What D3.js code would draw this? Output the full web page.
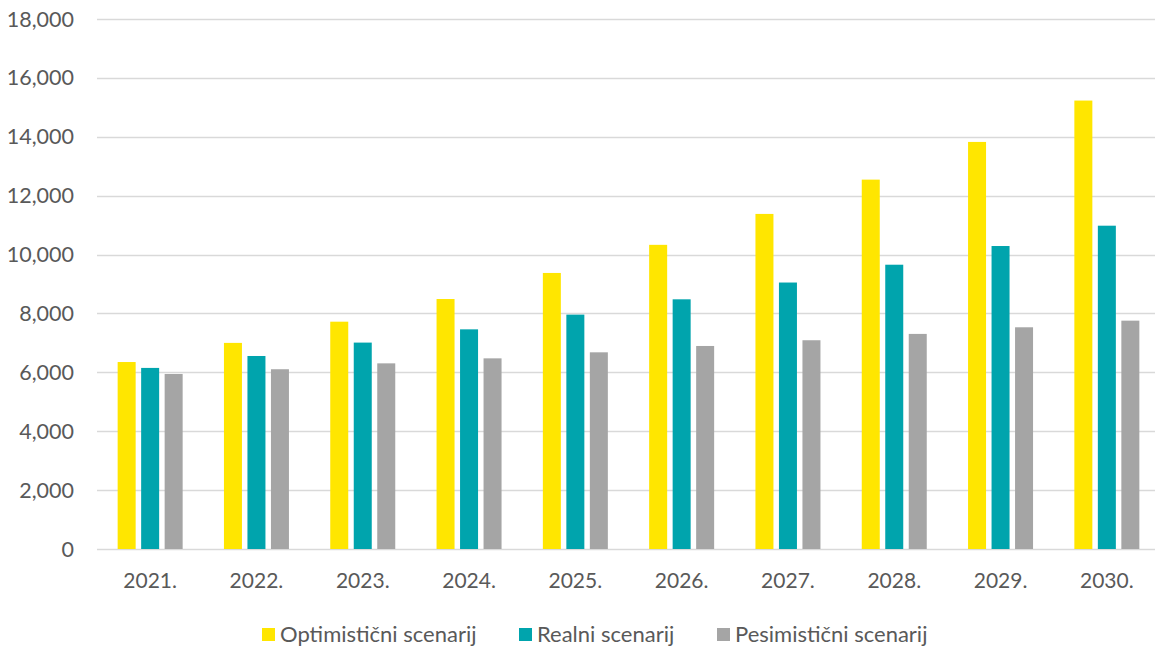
<!DOCTYPE html>
<html>
<head>
<meta charset="utf-8">
<script src="https://cdn.jsdelivr.net/npm/d3@7"></script>
<style>
  html, body { margin: 0; padding: 0; background: #fff; }
  svg { display: block; }
  text { font-family: Lato, "Open Sans", "Liberation Sans", sans-serif; fill: #595959; }
</style>
</head>
<body>
<svg id="chart" width="1155" height="650"></svg>
<script>
const categories = ["2021.", "2022.", "2023.", "2024.", "2025.", "2026.", "2027.", "2028.", "2029.", "2030."];
const seriesNames = ["Optimistični scenarij", "Realni scenarij", "Pesimistični scenarij"];
const optimistic = [6350, 7000, 7720, 8490, 9375, 10330, 11380, 12545, 13825, 15230];
const realistic  = [6150, 6555, 7010, 7460, 7960, 8480, 9050, 9655, 10290, 10980];
const pessimistic = [5945, 6105, 6305, 6475, 6680, 6895, 7090, 7305, 7530, 7755];
const yTicks = [0, 2000, 4000, 6000, 8000, 10000, 12000, 14000, 16000, 18000];
const colors = ["#FFE600", "#00A4AD", "#A5A5A5"];

const seriesValues = [optimistic, realistic, pessimistic];
const rows = categories.map((c, i) => ({cat: c, vals: seriesNames.map((s, j) => ({s, v: seriesValues[j][i], j}))}));

const svg = d3.select("#chart");
const plotLeft = 97, plotRight = 1160, plotTop = 19, plotBottom = 549;

const x0 = d3.scaleBand().domain(categories).range([plotLeft, plotRight]).paddingInner(0).paddingOuter(0);
const innerW = 65;
const x1 = d3.scaleBand().domain(seriesNames).range([0, innerW]).paddingInner(0.234).paddingOuter(0);
const y = d3.scaleLinear().domain([0, 18000]).range([plotBottom, plotTop]);
const color = d3.scaleOrdinal().domain(seriesNames).range(colors);

// gridlines
svg.append("g").selectAll("line").data(yTicks).join("line")
  .attr("x1", plotLeft).attr("x2", 1155)
  .attr("y1", d => Math.round(y(d)) + 0.5).attr("y2", d => Math.round(y(d)) + 0.5)
  .attr("stroke", "#d9d9d9").attr("stroke-width", 1.4);

// y labels
const fmt = d3.format(",");
svg.append("g").selectAll("text").data(yTicks).join("text")
  .attr("x", 74).attr("y", d => y(d))
  .attr("dy", "0.35em").attr("text-anchor", "end")
  .style("font-size", "21.5px")
  .text(d => fmt(d));

// bars
const groups = svg.append("g").selectAll("g").data(rows).join("g")
  .attr("transform", d => `translate(${x0(d.cat) + (x0.bandwidth() - innerW) / 2},0)`);
groups.selectAll("rect").data(d => d.vals).join("rect")
  .attr("x", d => x1(d.s))
  .attr("width", x1.bandwidth())
  .attr("y", d => y(d.v))
  .attr("height", d => y(0) - y(d.v))
  .attr("fill", d => color(d.s));

// x labels
svg.append("g").selectAll("text").data(categories).join("text")
  .attr("x", d => x0(d) + x0.bandwidth() / 2)
  .attr("y", 588)
  .attr("text-anchor", "middle")
  .style("font-size", "21px")
  .text(d => d);

// legend
const legendX = [262, 519, 717];
const lg = svg.append("g").selectAll("g").data(seriesNames).join("g")
  .attr("transform", (d, i) => `translate(${legendX[i]},0)`);
lg.append("rect").attr("x", 0).attr("y", 628).attr("width", 13).attr("height", 13)
  .attr("fill", d => color(d));
lg.append("text").attr("x", 18).attr("y", 642)
  .style("font-size", "22px")
  .text(d => d);
</script>
</body>
</html>
